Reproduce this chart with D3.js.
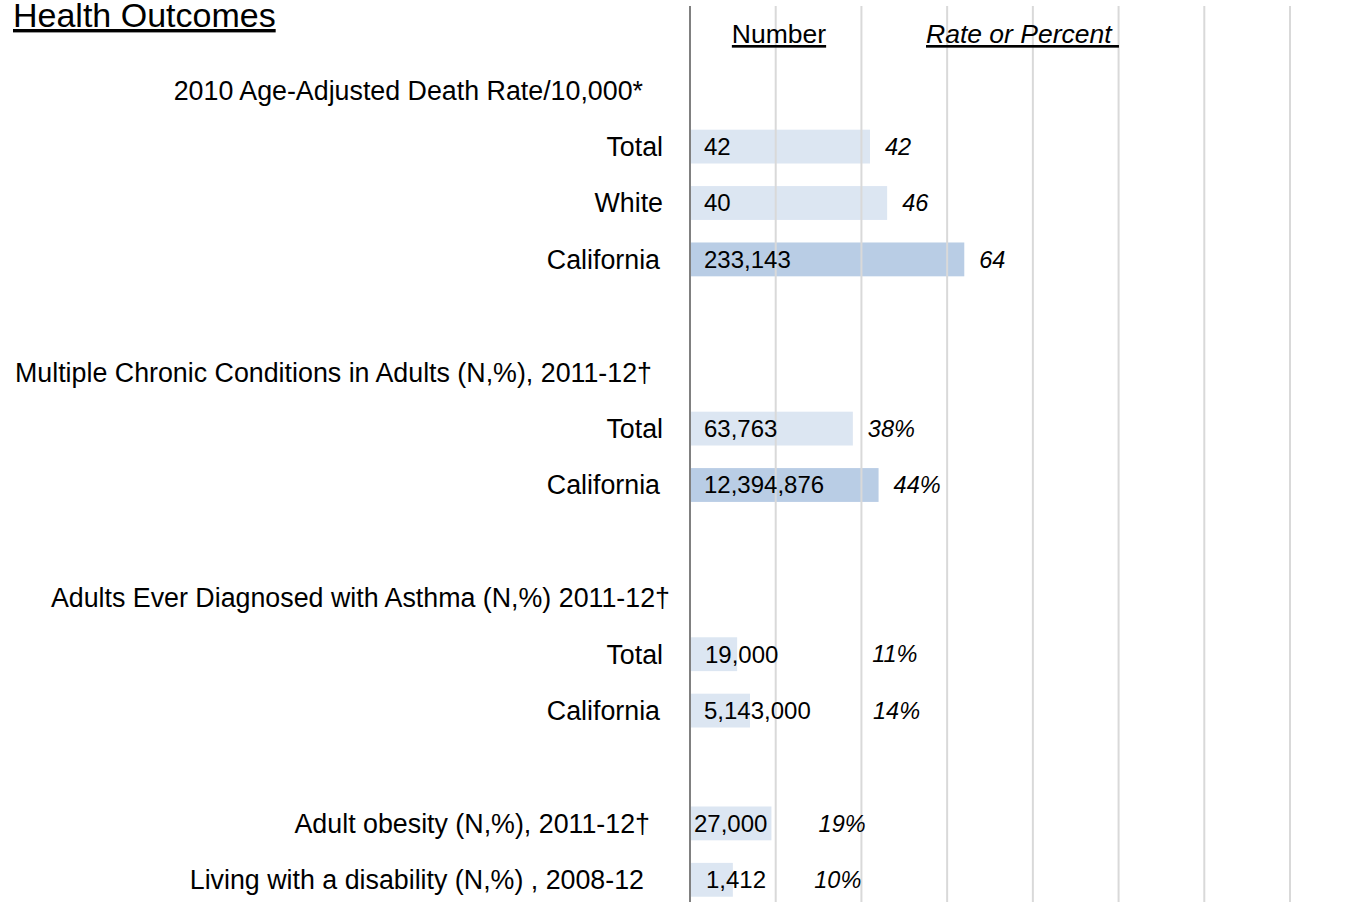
<!DOCTYPE html>
<html>
<head>
<meta charset="utf-8">
<script src="https://cdn.jsdelivr.net/npm/d3@7"></script>
<style>
  body { margin: 0; background: #fff; }
  text { font-family: "Liberation Sans", Arial, sans-serif; fill: #000; }
</style>
</head>
<body>
<div id="chart"></div>
<script>
// Global Variables
var w = 1358;
var h = 902;

// Rows of the chart, top to bottom (empty strings are spacer rows)
var rowLabels = [
	"2010 Age-Adjusted Death Rate/10,000*",
	"Total",
	"White",
	"California",
	"",
	"Multiple Chronic Conditions in Adults (N,%), 2011-12\u2020",
	"Total",
	"California",
	"",
	"Adults Ever Diagnosed with Asthma (N,%) 2011-12\u2020",
	"Total",
	"California",
	"",
	"Adult obesity (N,%), 2011-12\u2020",
	"Living with a disability (N,%) , 2008-12"
];
var numbers = [null, "42", "40", "233,143", null, null, "63,763", "12,394,876", null, null, "19,000", "5,143,000", null, "27,000", "1,412"];
var rates = [null, 42, 46, 64, null, null, 38, 44, null, null, 11, 14, null, 19, 10];
var rateLabels = [null, "42", "46", "64", null, null, "38%", "44%", null, null, "11%", "14%", null, "19%", "10%"];
var isState = [false, false, false, true, false, false, false, true, false, false, false, false, false, false, false];

// Layout tweaks copied from the original text boxes
var labelRight = [643, 663, 663, 660, 0, 652, 663, 660, 0, 670, 663, 660, 0, 650, 644];
var numberPad = [0, 14, 14, 14, 0, 0, 14, 14, 0, 0, 15, 14, 0, 4, 16];
var rateLabelAt = [null, null, null, null, null, null, null, null, null, null, 42.5, 42.7, null, 30, 29]; // in value units, null = after bar

var svg = d3.select("#chart")
	.append("svg")
	.attr("width", w)
	.attr("height", h);

var x = d3.scaleLinear().domain([0, 140]).range([690, 1290]);
var y = d3.scaleBand()
	.domain(d3.range(rowLabels.length))
	.range([62, 908])
	.paddingInner(0.4)
	.paddingOuter(0.2);

// bars
var rows = d3.range(rowLabels.length).filter(function(i) { return rates[i] != null; });
svg.selectAll("rect.bar")
	.data(rows)
	.enter()
	.append("rect")
	.attr("class", "bar")
	.attr("x", x(0))
	.attr("y", function(i) { return y(i); })
	.attr("width", function(i) { return x(rates[i]) - x(0); })
	.attr("height", y.bandwidth())
	.style("fill", function(i) { return isState[i] ? "#b9cde5" : "#dce6f2"; });

// gridlines drawn on top of the bars
svg.selectAll("line.grid")
	.data(d3.range(20, 161, 20))
	.enter()
	.append("line")
	.attr("class", "grid")
	.attr("x1", function(d) { return x(d); })
	.attr("x2", function(d) { return x(d); })
	.attr("y1", 6)
	.attr("y2", h)
	.style("stroke", "#d9d9d9")
	.style("stroke-width", 2);

svg.append("line")
	.attr("x1", x(0)).attr("x2", x(0))
	.attr("y1", 6).attr("y2", h)
	.style("stroke", "#808080")
	.style("stroke-width", 2);

// title and column headers
svg.append("text")
	.attr("x", 13)
	.attr("y", 27)
	.style("font-size", "34px")
	.style("text-decoration", "underline")
	.text("Health Outcomes");

svg.append("text")
	.attr("x", 779)
	.attr("y", 43)
	.attr("text-anchor", "middle")
	.style("font-size", "26.5px")
	.style("text-decoration", "underline")
	.text("Number");

svg.append("text")
	.attr("x", 926)
	.attr("y", 43)
	.style("font-size", "26.5px")
	.style("font-style", "italic")
	.style("text-decoration", "underline")
	.style("white-space", "pre")
	.text("Rate or Percent ");

// row labels
svg.selectAll("text.label")
	.data(d3.range(rowLabels.length).filter(function(i) { return rowLabels[i] !== ""; }))
	.enter()
	.append("text")
	.attr("class", "label")
	.attr("x", function(i) { return labelRight[i]; })
	.attr("y", function(i) { return y(i) + y.bandwidth() / 2; })
	.attr("dy", "0.35em")
	.attr("text-anchor", "end")
	.style("font-size", "26.8px")
	.text(function(i) { return rowLabels[i]; });

// number inside bar
svg.selectAll("text.num")
	.data(rows)
	.enter()
	.append("text")
	.attr("class", "num")
	.attr("x", function(i) { return x(0) + numberPad[i]; })
	.attr("y", function(i) { return y(i) + y.bandwidth() / 2; })
	.attr("dy", "0.35em")
	.style("font-size", "24px")
	.text(function(i) { return numbers[i]; });

// rate or percent
svg.selectAll("text.rate")
	.data(rows)
	.enter()
	.append("text")
	.attr("class", "rate")
	.attr("x", function(i) {
		return rateLabelAt[i] != null ? x(rateLabelAt[i]) : x(rates[i]) + 15;
	})
	.attr("y", function(i) { return y(i) + y.bandwidth() / 2; })
	.attr("dy", "0.35em")
	.style("font-size", "23.5px")
	.style("font-style", "italic")
	.text(function(i) { return rateLabels[i]; });
</script>
</body>
</html>
